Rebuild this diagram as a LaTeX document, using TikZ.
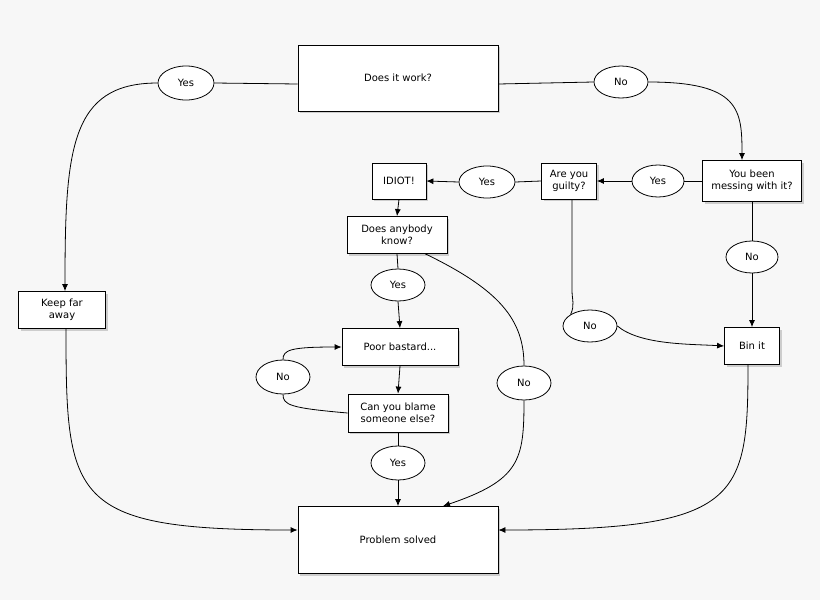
\documentclass[tikz,border=0pt]{standalone}
\usepackage{fontspec}
\setmainfont{DejaVu Sans}
\usetikzlibrary{shadows,arrows.meta,shapes.geometric}
\begin{document}
\begin{tikzpicture}[x=1pt,y=-1pt,font=\fontsize{10}{12}\selectfont,
  box/.style={draw,thick,fill=white,align=center,inner sep=1pt,drop shadow={opacity=0.35,shadow xshift=2pt,shadow yshift=-2pt}},
  oval/.style={draw,thick,fill=white,ellipse,inner sep=0pt},
  ln/.style={thick},
  ar/.style={thick,-{Latex[length=7pt,width=6pt]}}]
\fill[gray!6] (0,0) rectangle (820,600);
\node[box,minimum width=200,minimum height=66] (work) at (398,78) {Does it work?};
\node[box,minimum width=200,minimum height=67] (solved) at (398,540) {Problem solved};
\node[box,minimum width=99,minimum height=41] (mess) at (752,181) {You been\\messing with it?};
\node[box,minimum width=55,minimum height=36] (guilty) at (569,181) {Are you\\guilty?};
\node[box,minimum width=54,minimum height=36] (idiot) at (399,181) {IDIOT!};
\node[box,minimum width=100,minimum height=37] (anybody) at (397,235) {Does anybody\\know?};
\node[box,minimum width=116,minimum height=37] (poor) at (400,347) {Poor bastard...};
\node[box,minimum width=100,minimum height=38] (blame) at (398,413) {Can you blame\\someone else?};
\node[box,minimum width=87,minimum height=37] (keep) at (62,310) {Keep far\\away};
\node[box,minimum width=55,minimum height=37] (bin) at (752,346) {Bin it};
\node[oval,minimum width=56,minimum height=34] (y1) at (186,83) {Yes};
\node[oval,minimum width=54,minimum height=32] (n1) at (621,82) {No};
\node[oval,minimum width=52,minimum height=32] (y2) at (658,181) {Yes};
\node[oval,minimum width=56,minimum height=32] (y3) at (487,182) {Yes};
\node[oval,minimum width=54,minimum height=32] (y4) at (398,285) {Yes};
\node[oval,minimum width=54,minimum height=34] (n4) at (283,377) {No};
\node[oval,minimum width=54,minimum height=34] (y5) at (398,463) {Yes};
\node[oval,minimum width=52,minimum height=32] (n3) at (752,257) {No};
\node[oval,minimum width=54,minimum height=32] (n2) at (590,326) {No};
\node[oval,minimum width=54,minimum height=34] (n5) at (524,383) {No};
% connectors
\draw[ln] (work.west |- 0,84) -- (y1.east);
\draw[ar] (y1.west) .. controls (70,83) and (65,150) .. (keep.north -| 65,0);
\draw[ln] (work.east |- 0,84) -- (n1.west);
\draw[ar] (n1.east) .. controls (740,82) and (742,110) .. (mess.north -| 742,0);
\draw[ln] (mess.west) -- (y2.east);
\draw[ar] (y2.west) -- (guilty.east);
\draw[ln] (guilty.west) -- (y3.east);
\draw[ar] (y3.west) -- (idiot.east);
\draw[ar] (idiot.south) -- (anybody.north);
\draw[ln] (anybody.south) -- (y4.north);
\draw[ar] (y4.south) -- (poor.north);
\draw[ar] (poor.south) -- (blame.north);
\draw[ln] (blame.west) .. controls (290,408) and (283,405) .. (n4.south);
\draw[ar] (n4.north) .. controls (283,350) and (290,347) .. (poor.west);
\draw[ln] (blame.south) -- (y5.north);
\draw[ar] (y5.south) -- (solved.north);
\draw[ln] (anybody.south east) ++(-22,0) coordinate (ab) (ab) .. controls (500,290) and (524,320) .. (n5.north);
\draw[ar] (n5.south) .. controls (524,460) and (520,480) .. (solved.north east -| 443,0);
\draw[ln] (guilty.south -| 572,0) -- (572,290) .. controls (572,300) and (575,305) .. (n2.north west);
\draw[ar] (n2.east) .. controls (640,345) and (690,344) .. (bin.west);
\draw[ln] (mess.south) -- (n3.north);
\draw[ar] (n3.south) -- (bin.north);
\draw[ar] (bin.south -| 748,0) .. controls (748,500) and (740,530) .. (solved.east |- 0,530);
\draw[ar] (keep.south -| 66,0) .. controls (66,500) and (70,530) .. (solved.west |- 0,530);
\end{tikzpicture}
\end{document}
